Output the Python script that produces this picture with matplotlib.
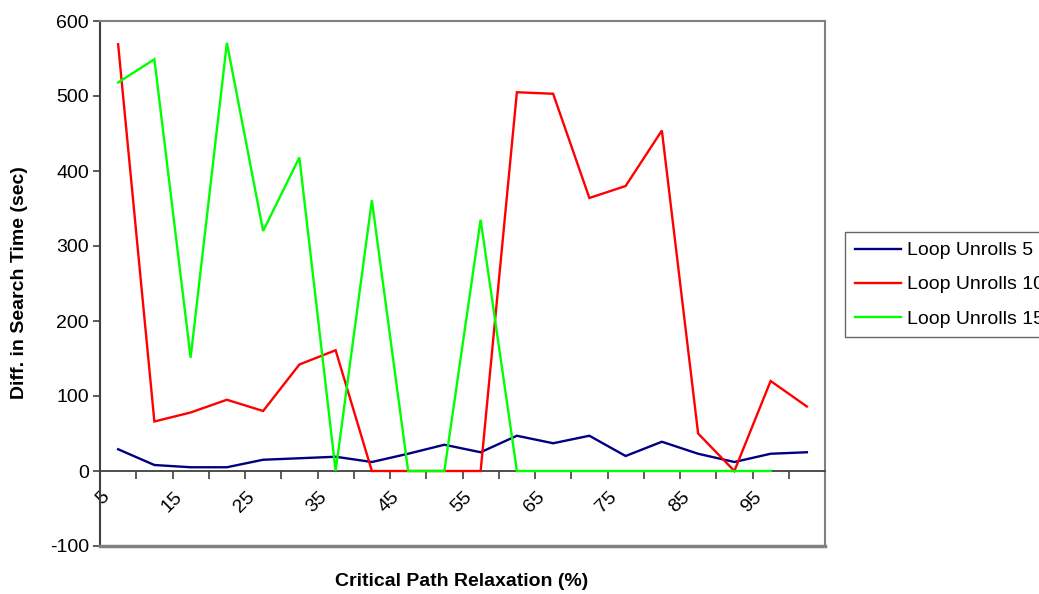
import matplotlib
matplotlib.use("Agg")
import matplotlib.pyplot as plt
from matplotlib.transforms import ScaledTranslation
import numpy as np

plt.rcParams['font.family'] = ['Liberation Sans', 'DejaVu Sans']

categories = [5, 10, 15, 20, 25, 30, 35, 40, 45, 50, 55, 60, 65, 70, 75, 80, 85, 90, 95, 100]
unrolls5 = [29, 8, 5, 5, 15, 17, 19, 12, 23, 35, 25, 47, 37, 47, 20, 39, 23, 12, 23, 25]
unrolls10 = [569, 66, 78, 95, 80, 142, 161, 0, 0, 0, 0, 505, 503, 364, 380, 454, 50, 0, 120, 86]
unrolls15 = [518, 549, 151, 571, 320, 418, 0, 361, 0, 0, 335, 0, 0, 0, 0, 0, 0, 0, 0, None]
series_names = ['Loop Unrolls 5', 'Loop Unrolls 10', 'Loop Unrolls 15']
series_colors = ['#000080', '#FF0000', '#00FF00']
yticks = [-100, 0, 100, 200, 300, 400, 500, 600]

fig = plt.figure(figsize=(10.39, 5.94), dpi=100)
ax = fig.add_axes([100/1039, 1-546/594, 725/1039, 525/594])

xpos = np.arange(len(categories)) + 0.5
for vals, name, col in zip([unrolls5, unrolls10, unrolls15], series_names, series_colors):
    y = np.array([np.nan if v is None else v for v in vals], dtype=float)
    ax.plot(xpos, y, color=col, lw=1.7, label=name, solid_joinstyle='miter', zorder=3)

ax.set_xlim(0, len(categories))
ax.set_ylim(-100, 600)

# frame
for s in ['top', 'right']:
    ax.spines[s].set_color('#808080')
    ax.spines[s].set_linewidth(1.5)
ax.spines['left'].set_color('#404040')
ax.spines['left'].set_linewidth(1.5)
ax.spines['bottom'].set_position(('data', 0))
ax.spines['bottom'].set_color('#404040')
ax.spines['bottom'].set_linewidth(1.3)
ax.axhline(-100, color='#808080', lw=2.5, clip_on=False, zorder=3)

ax.set_yticks(yticks)
ax.set_yticklabels([str(v) for v in yticks])
ax.tick_params(axis='y', direction='out', length=5, width=1.2, color='#404040',
               labelsize=14, pad=3)

# x: tick marks at category boundaries, labels at centers
ax.set_xticks(np.arange(0, len(categories) + 1))
ax.set_xticklabels([])
ax.tick_params(axis='x', which='major', direction='out', length=6, width=1.2, color='#404040')
ax.set_xticks(xpos[::2], minor=True)
ax.set_xticklabels([str(c) for c in categories[::2]], minor=True)
ax.tick_params(axis='x', which='minor', length=0, labelsize=14, pad=17)
off = ScaledTranslation(-11/100, 0, fig.dpi_scale_trans)
for lab in ax.get_xticklabels(minor=True):
    lab.set_rotation(45)
    lab.set_ha('right')
    lab.set_va('center')
    lab.set_rotation_mode('anchor')
    lab.set_transform(lab.get_transform() + off)

fig.text(462/1039, 1-581/594, 'Critical Path Relaxation (%)', ha='center', va='center',
         fontsize=14, fontweight='bold')
fig.text(20/1039, 1-283/594, 'Diff. in Search Time (sec)', ha='center', va='center',
         rotation=90, fontsize=14, fontweight='bold')

leg = fig.legend(loc='upper left', bbox_to_anchor=(845/1039, 1-232/594), frameon=True,
                 fancybox=False, fontsize=14, handlelength=2.4, handletextpad=0.3,
                 borderpad=0.5, labelspacing=0.85, borderaxespad=0)
leg.get_frame().set_edgecolor('#404040')
leg.get_frame().set_linewidth(1.0)

fig.savefig('out.png', dpi=100)
